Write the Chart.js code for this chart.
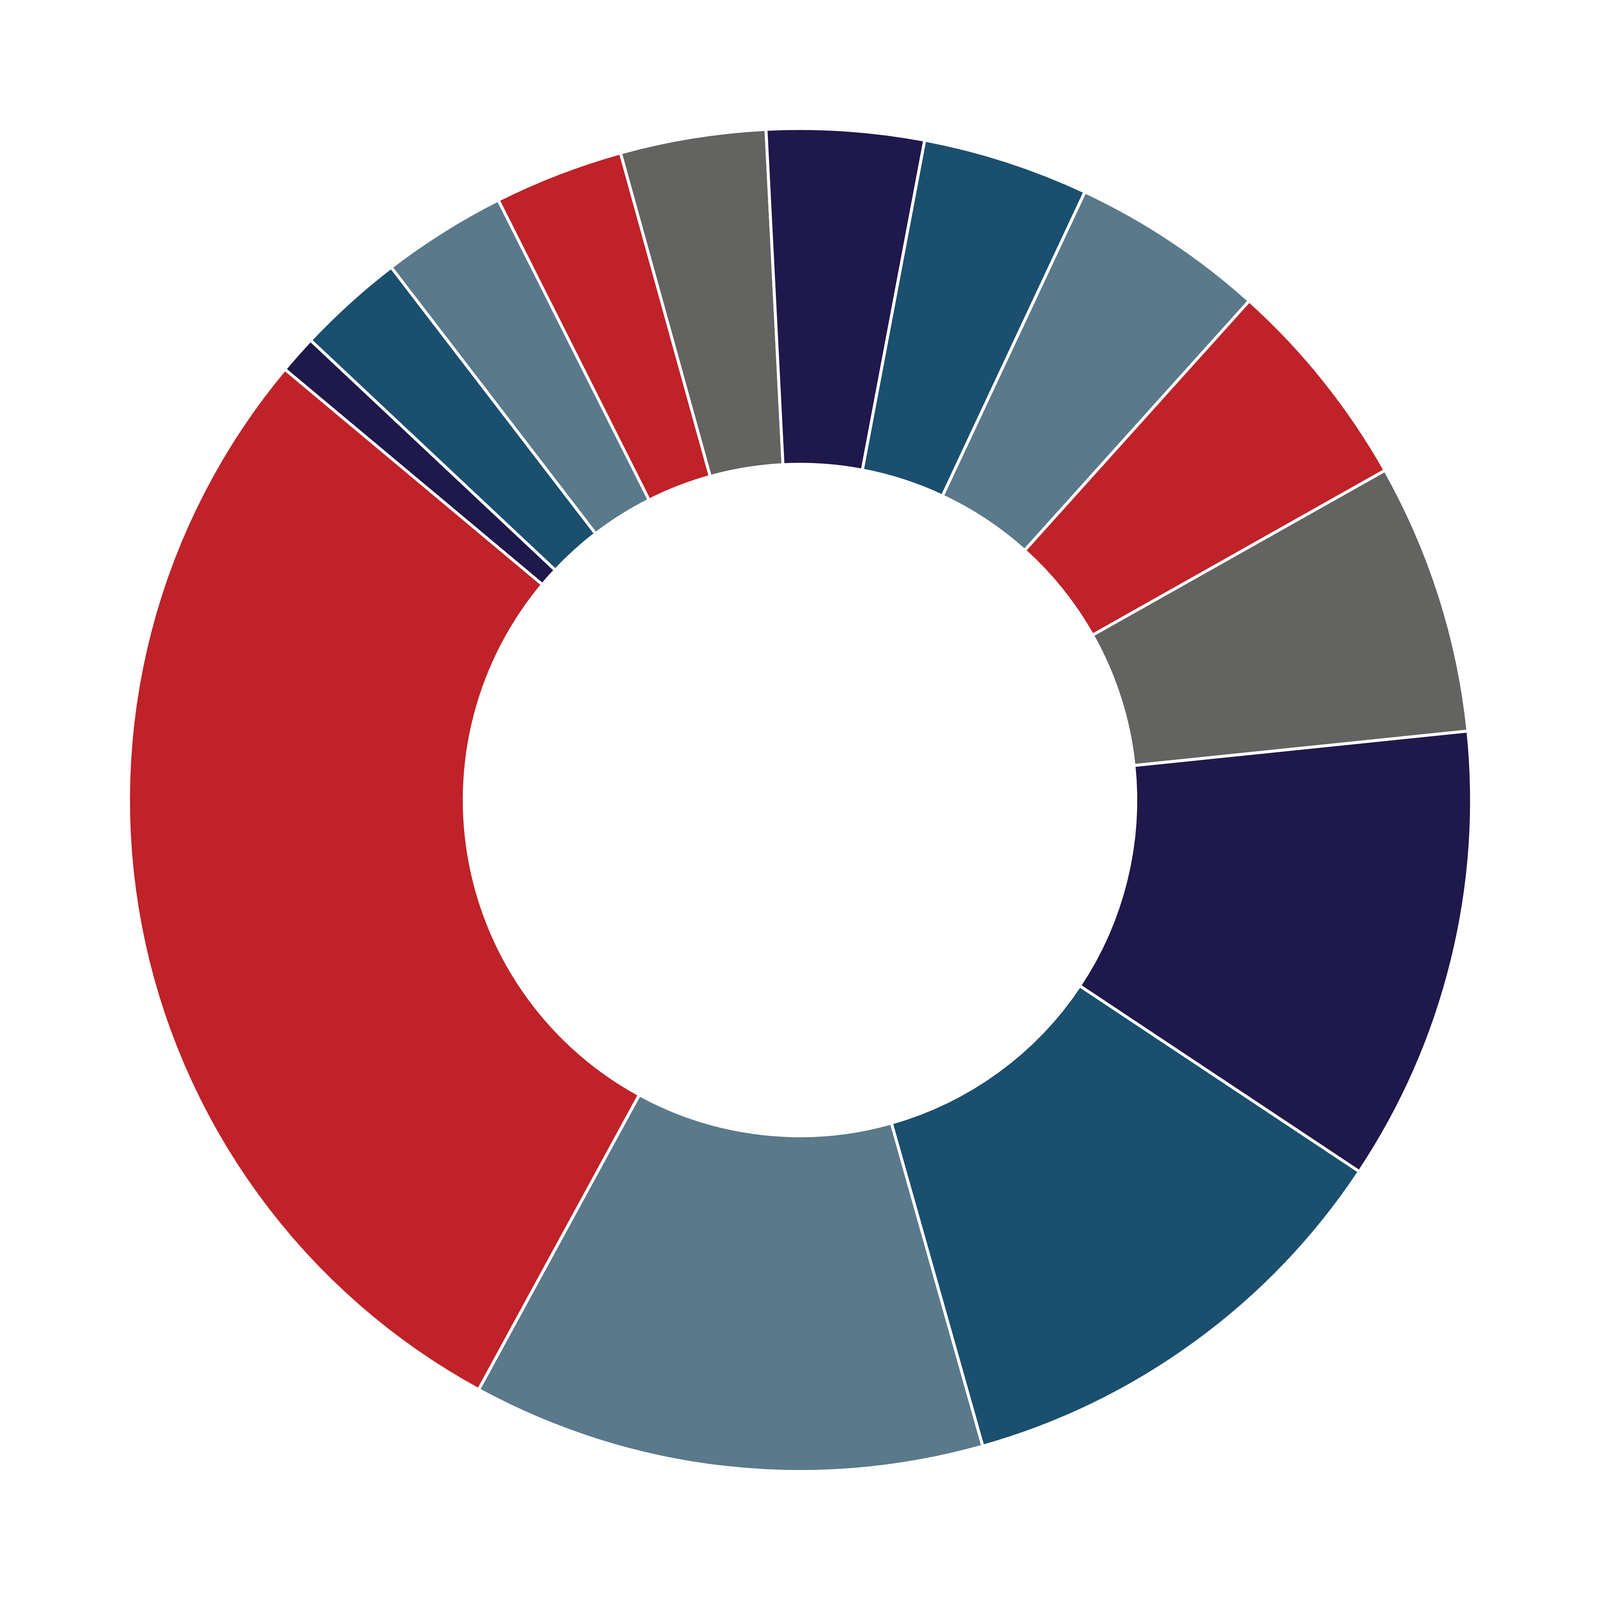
<!DOCTYPE html>
<html>
<head>
<meta charset="utf-8">
<style>
  html, body { margin: 0; padding: 0; background: #ffffff; overflow: hidden; }
  #wrap { position: relative; width: 100vw; height: 100vh; }
</style>
<script src="https://cdn.jsdelivr.net/npm/chart.js@4.4.1/dist/chart.umd.min.js"></script>
</head>
<body>
<div id="wrap"><canvas id="donut"></canvas></div>
<script>
// slice shares (percent), in drawing order (ascending)
const labels = ["A", "B", "C", "D", "E", "F", "G", "H", "I", "J", "K", "L", "M", "N"];
const values = [0.92, 2.58, 3.0, 3.11, 3.5, 3.78, 4.0, 4.69, 5.17, 6.53, 10.97, 11.28, 12.33, 28.14];
const palette = ["#1f184a", "#1b4f6e", "#5a798b", "#bf2228", "#636462"];

const colors = values.map((_, i) => palette[i % palette.length]);

// the picture is 6500 wide; scale padding and border to whatever the viewport is
const side = Math.min(window.innerWidth, window.innerHeight);
const unit = side / 6500;

new Chart(document.querySelector("#donut"), {
  type: "doughnut",
  data: {
    labels,
    datasets: [
      {
        data: values,
        backgroundColor: colors,
        borderColor: "#ffffff",
        borderWidth: 12 * unit,
        hoverOffset: 0,
      },
    ],
  },
  options: {
    responsive: true,
    maintainAspectRatio: false,
    animation: false,
    rotation: -50.1,
    cutout: "50%",
    layout: { padding: 516 * unit },
    plugins: {
      legend: { display: false },
      tooltip: { enabled: false },
    },
  },
});
</script>
</body>
</html>
